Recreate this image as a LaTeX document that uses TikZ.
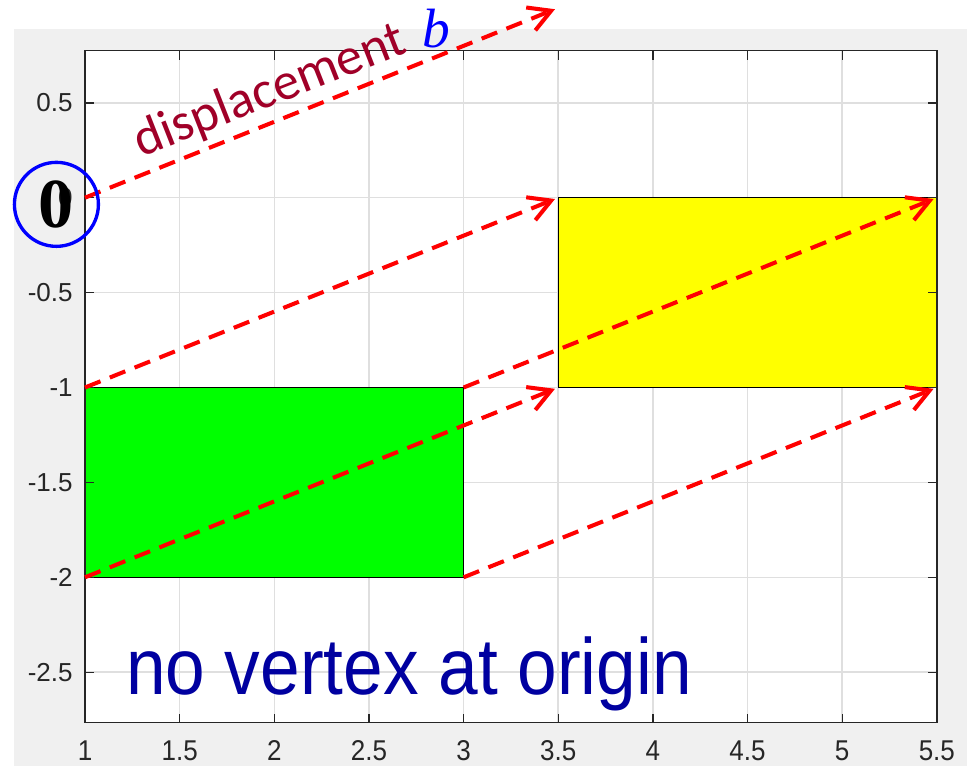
\documentclass[tikz,border=0pt]{standalone}
\usepackage{fontspec}
\setmainfont{Liberation Sans}
\newfontfamily\calfont{Carlito}
\newfontfamily\serffont{Liberation Serif}
\definecolor{figgray}{HTML}{F0F0F0}
\definecolor{gridgray}{HTML}{DFDFDF}
\definecolor{axisgray}{HTML}{262626}
\definecolor{labelred}{HTML}{A00028}
\definecolor{noteblue}{HTML}{0000A0}
\definecolor{patchgreen}{HTML}{00FF00}
\definecolor{patchyellow}{HTML}{FFFF00}
\usetikzlibrary{arrows.meta, positioning, calc}

\begin{document}
\begin{tikzpicture}[
    x=3.786cm, y=3.796cm,
    tick label/.style={font=\fontsize{14.8}{17}\selectfont, text=axisgray,
                       inner sep=0pt},
    grid line/.style={gridgray, line width=0.9pt},
    axis line/.style={axisgray, line width=0.8pt},
    patch/.style={draw=black, line width=0.6pt},
    shift arrow/.style={red, line width=2.3pt, shorten >=2pt,
                        dash pattern=on 9.5pt off 5.7pt,
                        -{Straight Barb[length=12.5pt, width=14pt]}},
  ]
    \useasboundingbox (0.5510,-2.9942) rectangle (5.6593,1.0416);

    % Figure and axes background
    \fill[figgray] (0.6249,-2.9942) rectangle (5.6593,0.8888);
    \fill[white] (1,-2.766) rectangle (5.5,0.7745);

    % Grid
    \foreach \x in {1.5,2,...,5}
      \draw[grid line] (\x,-2.766) -- (\x,0.7745);
    \foreach \y in {-2.5,-2,...,0.5}
      \draw[grid line] (1,\y) -- (5.5,\y);

    % Rectangles (before and after the shift)
    \coordinate (G-sw) at (1,-2);
    \coordinate (G-ne) at (3,-1);
    \coordinate (Y-sw) at (3.5,-1);
    \coordinate (Y-ne) at (5.5,0);
    \draw[patch, fill=patchgreen] (G-sw) rectangle (G-ne);
    \draw[patch, fill=patchyellow] (Y-sw) rectangle (Y-ne);

    % Axes box and ticks
    \draw[axis line] (1,-2.766) rectangle (5.5,0.7745);
    \foreach \x in {1.5,2,...,5} {
      \draw[axis line] (\x,-2.766) -- ++(0pt,5.1pt);
      \draw[axis line] (\x,0.7745) -- ++(0pt,-5.1pt);
    }
    \foreach \y in {-2.5,-2,...,0.5} {
      \draw[axis line] (1,\y) -- ++(5.1pt,0pt);
      \draw[axis line] (5.5,\y) -- ++(-5.1pt,0pt);
    }

    % Tick labels
    \foreach \x [count=\i] in {1,1.5,2,2.5,3,3.5,4,4.5,5,5.5}
      \node[tick label, yscale=1.1] (XL-\i) at (\x,-2.915) {\x};
    \foreach \y [count=\i] in {0.5,0,-0.5,-1,-1.5,-2,-2.5}
      \node[tick label, anchor=east] (YL-\i) at (0.9366,\y) {\y};

    % Displacement arrows
    \foreach \sx/\sy [count=\i] in {1/0, 1/-1, 1/-2, 3/-1, 3/-2} {
      \coordinate (S-\i) at (\sx,\sy);
      \coordinate (E-\i) at ($(S-\i)+(2.5,1)$);
      \draw[shift arrow] (S-\i) -- (E-\i);
    }

    % Annotations
    \node[circle, draw=blue, line width=1.9pt, minimum size=1.68cm,
          inner sep=0pt, font=\serffont\bfseries\fontsize{40}{42}\selectfont]
      (origin) at (0.849,-0.035) {0};
    \node[rotate=21.5, anchor=base west, inner sep=0pt, text=labelred,
          font=\calfont\fontsize{30}{31}\selectfont]
      (disp) at (1.298,0.212) {displacement};
    \node[anchor=base west, inner sep=0pt, text=blue,
          font=\serffont\itshape\fontsize{31.5}{33}\selectfont]
      (bvec) at (2.78,0.79) {b};
    \node[anchor=base west, inner sep=0pt, yscale=1.12, text=noteblue,
          font=\fontsize{40.5}{44}\selectfont]
      (note) at (1.215,-2.615) {no vertex at origin};
  \end{tikzpicture}
\end{document}
